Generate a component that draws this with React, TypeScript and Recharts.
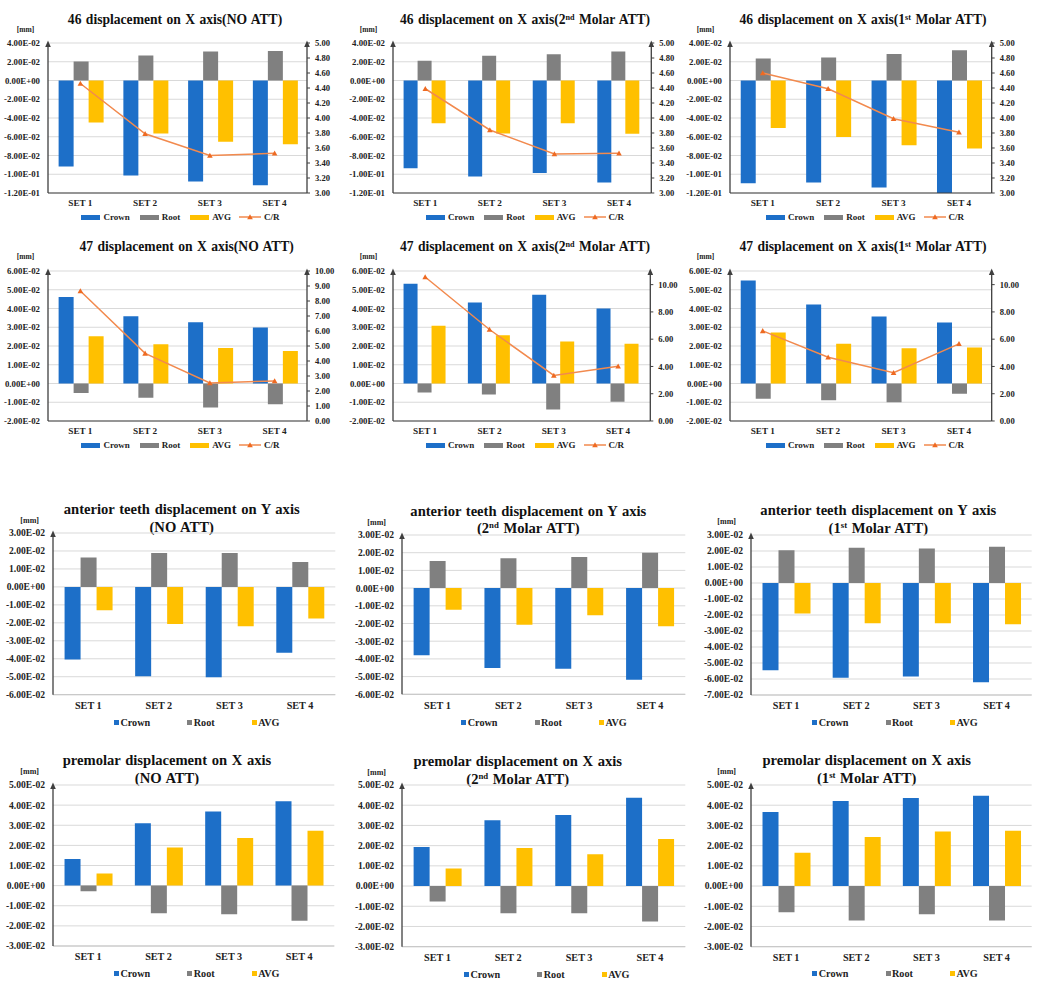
import React from 'react';
import { ComposedChart, Bar, Line, XAxis, YAxis, CartesianGrid } from 'recharts';

// ---------- categories ----------
const SETS = ['SET 1', 'SET 2', 'SET 3', 'SET 4'];

// ---------- 46 displacement on X axis ----------
const t46NoCrown = [-0.0917, -0.1013, -0.1077, -0.1116];
const t46NoRoot = [0.0203, 0.0267, 0.0309, 0.0316];
const t46NoAvg = [-0.0448, -0.0565, -0.0654, -0.0679];
const t46NoCR = [4.46, 3.79, 3.5, 3.53];

const t46M2Crown = [-0.0935, -0.1024, -0.0988, -0.1088];
const t46M2Root = [0.021, 0.0263, 0.0281, 0.0309];
const t46M2Avg = [-0.0455, -0.0565, -0.0455, -0.0569];
const t46M2CR = [4.39, 3.84, 3.52, 3.53];

const t46M1Crown = [-0.1095, -0.1088, -0.1141, -0.12];
const t46M1Root = [0.0235, 0.0245, 0.0284, 0.0324];
const t46M1Avg = [-0.0508, -0.0604, -0.069, -0.0725];
const t46M1CR = [4.6, 4.39, 3.99, 3.81];

// ---------- 47 displacement on X axis ----------
const t47NoCrown = [0.0462, 0.0359, 0.0327, 0.0299];
const t47NoRoot = [-0.005, -0.0076, -0.0128, -0.011];
const t47NoAvg = [0.0252, 0.021, 0.019, 0.0174];
const t47NoCR = [8.67, 4.51, 2.53, 2.67];

const t47M2Crown = [0.0532, 0.0432, 0.0473, 0.04];
const t47M2Root = [-0.0048, -0.0059, -0.0139, -0.0098];
const t47M2Avg = [0.0308, 0.0258, 0.0224, 0.0212];
const t47M2CR = [10.56, 6.71, 3.34, 4.02];

const t47M1Crown = [0.0549, 0.0421, 0.0357, 0.0325];
const t47M1Root = [-0.0082, -0.0089, -0.01, -0.0055];
const t47M1Avg = [0.0272, 0.0212, 0.0188, 0.0192];
const t47M1CR = [6.61, 4.68, 3.54, 5.66];

// ---------- anterior teeth displacement on Y axis ----------
const antNoCrown = [-0.0404, -0.0497, -0.0503, -0.0367];
const antNoRoot = [0.0163, 0.0189, 0.0189, 0.0139];
const antNoAvg = [-0.013, -0.0206, -0.0219, -0.0176];

const antM2Crown = [-0.038, -0.0452, -0.0456, -0.0518];
const antM2Root = [0.0153, 0.0168, 0.0175, 0.02];
const antM2Avg = [-0.0122, -0.0207, -0.0154, -0.0215];

const antM1Crown = [-0.0546, -0.0592, -0.0585, -0.0621];
const antM1Root = [0.0204, 0.0221, 0.0215, 0.0227];
const antM1Avg = [-0.019, -0.0252, -0.0252, -0.0258];

// ---------- premolar displacement on X axis ----------
const preNoCrown = [0.0132, 0.031, 0.0368, 0.0419];
const preNoRoot = [-0.0028, -0.0137, -0.0142, -0.0175];
const preNoAvg = [0.006, 0.0189, 0.0237, 0.0273];

const preM2Crown = [0.0193, 0.0325, 0.0351, 0.0437];
const preM2Root = [-0.0076, -0.0134, -0.0134, -0.0175];
const preM2Avg = [0.0087, 0.0188, 0.0157, 0.0233];

const preM1Crown = [0.0366, 0.0421, 0.0436, 0.0447];
const preM1Root = [-0.0129, -0.017, -0.014, -0.017];
const preM1Avg = [0.0165, 0.0243, 0.027, 0.0274];

// ---------- axis ticks ----------
const ticks46L = [-0.12, -0.1, -0.08, -0.06, -0.04, -0.02, 0, 0.02, 0.04];
const ticks46R = [3, 3.2, 3.4, 3.6, 3.8, 4, 4.2, 4.4, 4.6, 4.8, 5];
const ticks47L = [-0.02, -0.01, 0, 0.01, 0.02, 0.03, 0.04, 0.05, 0.06];
const ticks47NoR = [0, 1, 2, 3, 4, 5, 6, 7, 8, 9, 10];
const ticks47AttR = [0, 2, 4, 6, 8, 10];
const ticksAnt6 = [-0.06, -0.05, -0.04, -0.03, -0.02, -0.01, 0, 0.01, 0.02, 0.03];
const ticksAnt7 = [-0.07, -0.06, -0.05, -0.04, -0.03, -0.02, -0.01, 0, 0.01, 0.02, 0.03];
const ticksPre = [-0.03, -0.02, -0.01, 0, 0.01, 0.02, 0.03, 0.04, 0.05];

// ---------- styles ----------
const FONT = '"Liberation Serif", "Times New Roman", Times, serif';
const BLUE = '#1D6FC8';
const GRAY = '#808080';
const GOLD = '#FFC000';
const ORANGE = '#F28A4E';
const ORANGE_DOT = '#EE6A22';
const AXIS = '#3f3f3f';
const TXT = '#222';

function sci(v: number): string {
  if (Math.abs(v) < 1e-12) return '0.00E+00';
  const s = v.toExponential(2);
  const [m, e] = s.split('e');
  const n = parseInt(e, 10);
  const a = Math.abs(n);
  return `${m}E${n < 0 ? '-' : '+'}${a < 10 ? '0' + a : a}`;
}

function buildRows(crown: number[], root: number[], avg: number[], cr?: number[]) {
  return SETS.map((set, i) => ({
    set,
    crown: crown[i],
    root: root[i],
    avg: avg[i],
    cr: cr ? cr[i] : undefined,
  }));
}

const arrowLeft = (props: any) => {
  const vb = props.viewBox || {};
  const x = (vb.x || 0) + (vb.width || 0);
  const y = vb.y || 0;
  return <polygon points={`${x - 2.8},${y + 4} ${x + 2.8},${y + 4} ${x},${y - 2.5}`} fill={AXIS} />;
};
const arrowRight = (props: any) => {
  const vb = props.viewBox || {};
  const x = vb.x || 0;
  const y = vb.y || 0;
  return <polygon points={`${x - 2.8},${y + 4} ${x + 2.8},${y + 4} ${x},${y - 2.5}`} fill={AXIS} />;
};

const TriDot = (p: any) => {
  const { cx, cy, index } = p;
  if (cx == null || cy == null) return <g key={`n${index}`} />;
  return (
    <polygon
      key={`t${index}`}
      points={`${cx - 2.8},${cy + 2.3} ${cx + 2.8},${cy + 2.3} ${cx},${cy - 2.8}`}
      fill={ORANGE_DOT}
    />
  );
};

type PanelProps = {
  rows: any[];
  x0: number; x1: number; y0: number; y1: number;
  lDomain: [number, number]; lTicks: number[];
  rDomain?: [number, number]; rTicks?: number[];
  big?: boolean;
};

function Panel({ rows, x0, x1, y0, y1, lDomain, lTicks, rDomain, rTicks, big }: PanelProps) {
  const wL = 52;
  const wR = rDomain ? 40 : 0;
  const mt = 8;
  const mr = 2;
  const hX = 24;
  const boxLeft = x0 - wL;
  const boxTop = y0 - mt;
  const W = x1 - boxLeft + wR + mr;
  const H = y1 - boxTop + hX;
  const tickFont = big ? 9.6 : 8.8;
  const xFont = big ? 10.2 : 9.2;
  return (
    <div style={{ position: 'absolute', left: boxLeft, top: boxTop, width: W, height: H }}>
      <ComposedChart
        width={W}
        height={H}
        data={rows}
        margin={{ top: mt, right: mr, bottom: 0, left: 0 }}
        barCategoryGap="16.4%"
        barGap={0}
      >
        <CartesianGrid yAxisId="l" vertical={false} stroke="#d9d9d9" strokeWidth={1} />
        <XAxis
          dataKey="set"
          interval={0}
          tickLine={false}
          tickSize={big ? 5 : 4}
          tickMargin={2}
          height={hX}
          axisLine={{ stroke: big ? '#c4c4c4' : AXIS, strokeWidth: big ? 1 : 1.2 }}
          tick={{ fontSize: xFont, fontWeight: 700, fill: TXT, fontFamily: FONT }}
        />
        <YAxis
          yAxisId="l"
          orientation="left"
          width={wL}
          domain={lDomain}
          ticks={lTicks}
          interval={0}
          allowDataOverflow
          tickFormatter={sci}
          tickLine={false}
          tickSize={6}
          tickMargin={2}
          axisLine={{ stroke: AXIS, strokeWidth: 1.3 }}
          tick={{ fontSize: tickFont, fontWeight: 700, fill: TXT, fontFamily: FONT }}
          label={{ content: arrowLeft }}
        />
        {rDomain && (
          <YAxis
            yAxisId="r"
            orientation="right"
            width={wR}
            domain={rDomain}
            ticks={rTicks}
            interval={0}
            allowDataOverflow
            tickFormatter={(v: number) => v.toFixed(2)}
            tickSize={3}
            tickMargin={5}
            tickLine={{ stroke: AXIS }}
            axisLine={{ stroke: AXIS, strokeWidth: 1.3 }}
            tick={{ fontSize: 8.6, fontWeight: 700, fill: TXT, fontFamily: FONT }}
            label={{ content: arrowRight }}
          />
        )}
        <Bar yAxisId="l" dataKey="crown" fill={BLUE} isAnimationActive={false} />
        <Bar yAxisId="l" dataKey="root" fill={GRAY} isAnimationActive={false} />
        <Bar yAxisId="l" dataKey="avg" fill={GOLD} isAnimationActive={false} />
        {rDomain && (
          <Line
            yAxisId="r"
            type="linear"
            dataKey="cr"
            stroke={ORANGE}
            strokeWidth={1.5}
            dot={TriDot}
            activeDot={false}
            isAnimationActive={false}
          />
        )}
      </ComposedChart>
    </div>
  );
}

function Title({ cx, cy, size, children }: { cx: number; cy: number; size: number; children: React.ReactNode }) {
  return (
    <div
      style={{
        position: 'absolute', left: cx - 250, width: 500, top: cy - 10, height: 20, lineHeight: '20px',
        textAlign: 'center', fontSize: size, fontWeight: 700, color: '#111', fontFamily: FONT, whiteSpace: 'nowrap',
        wordSpacing: 1,
      }}
    >
      {children}
    </div>
  );
}

function Sup({ children }: { children: React.ReactNode }) {
  return <span style={{ fontSize: '0.6em', verticalAlign: '0.55em', lineHeight: 0 }}>{children}</span>;
}

function MM({ cx, cy, size }: { cx: number; cy: number; size: number }) {
  return (
    <div style={{ position: 'absolute', left: cx - 20, width: 40, top: cy - 6, height: 12, lineHeight: '12px', textAlign: 'center', fontSize: size, fontWeight: 700, color: TXT, fontFamily: FONT }}>
      [mm]
    </div>
  );
}

function LegendTop({ cx, cy }: { cx: number; cy: number }) {
  const sw = (c: string) => <span style={{ display: 'inline-block', width: 19, height: 5, background: c, marginRight: 3 }} />;
  const txt: React.CSSProperties = { fontSize: 9, fontWeight: 700, color: TXT, fontFamily: FONT };
  return (
    <div style={{ position: 'absolute', left: cx - 150, width: 300, top: cy - 6, height: 12, display: 'flex', alignItems: 'center', justifyContent: 'center', whiteSpace: 'nowrap' }}>
      {sw(BLUE)}<span style={{ ...txt, marginRight: 10 }}>Crown</span>
      {sw(GRAY)}<span style={{ ...txt, marginRight: 10 }}>Root</span>
      {sw(GOLD)}<span style={{ ...txt, marginRight: 8 }}>AVG</span>
      <svg width={22} height={8} style={{ marginRight: 3 }}>
        <line x1={0} y1={4} x2={22} y2={4} stroke={ORANGE} strokeWidth={1.5} />
        <polygon points="8.2,6.3 13.8,6.3 11,1.2" fill={ORANGE_DOT} />
      </svg>
      <span style={txt}>C/R</span>
    </div>
  );
}

function LegendBottom({ cx, cy }: { cx: number; cy: number }) {
  const sq = (c: string) => <span style={{ display: 'inline-block', width: 5, height: 5, background: c, marginRight: 1.5 }} />;
  const txt: React.CSSProperties = { fontSize: 10.2, fontWeight: 700, color: TXT, fontFamily: FONT };
  return (
    <div style={{ position: 'absolute', left: cx - 150, width: 300, top: cy - 7, height: 14, display: 'flex', alignItems: 'center', justifyContent: 'center', whiteSpace: 'nowrap' }}>
      {sq(BLUE)}<span style={{ ...txt, marginRight: 37 }}>Crown</span>
      {sq(GRAY)}<span style={{ ...txt, marginRight: 37 }}>Root</span>
      {sq(GOLD)}<span style={txt}>AVG</span>
    </div>
  );
}

export default function App() {
  const r46No = buildRows(t46NoCrown, t46NoRoot, t46NoAvg, t46NoCR);
  const r46M2 = buildRows(t46M2Crown, t46M2Root, t46M2Avg, t46M2CR);
  const r46M1 = buildRows(t46M1Crown, t46M1Root, t46M1Avg, t46M1CR);
  const r47No = buildRows(t47NoCrown, t47NoRoot, t47NoAvg, t47NoCR);
  const r47M2 = buildRows(t47M2Crown, t47M2Root, t47M2Avg, t47M2CR);
  const r47M1 = buildRows(t47M1Crown, t47M1Root, t47M1Avg, t47M1CR);
  const rAntNo = buildRows(antNoCrown, antNoRoot, antNoAvg);
  const rAntM2 = buildRows(antM2Crown, antM2Root, antM2Avg);
  const rAntM1 = buildRows(antM1Crown, antM1Root, antM1Avg);
  const rPreNo = buildRows(preNoCrown, preNoRoot, preNoAvg);
  const rPreM2 = buildRows(preM2Crown, preM2Root, preM2Avg);
  const rPreM1 = buildRows(preM1Crown, preM1Root, preM1Avg);

  const d46: [number, number] = [-0.12, 0.04];
  const d46R: [number, number] = [3, 5];
  const d47: [number, number] = [-0.02, 0.06];

  return (
    <div style={{ position: 'absolute', left: 0, top: 0, width: 1052, height: 988, background: '#fff', overflow: 'hidden', fontFamily: FONT }}>
      {/* Row 1 */}
      <Title cx={175} cy={20} size={13.6}>46 displacement on X axis(NO ATT)</Title>
      <Title cx={525} cy={19.5} size={13.6}>46 displacement on X axis(2<Sup>nd</Sup> Molar ATT)</Title>
      <Title cx={863} cy={19.5} size={13.6}>46 displacement on X axis(1<Sup>st</Sup> Molar ATT)</Title>
      <MM cx={25.5} cy={29.5} size={7.5} />
      <MM cx={368.5} cy={29.5} size={7.5} />
      <MM cx={705.5} cy={29.5} size={7.5} />
      <Panel rows={r46No} x0={47.7} x1={306.7} y0={42.7} y1={192.7} lDomain={d46} lTicks={ticks46L} rDomain={d46R} rTicks={ticks46R} />
      <Panel rows={r46M2} x0={392.7} x1={651} y0={42.7} y1={192.7} lDomain={d46} lTicks={ticks46L} rDomain={d46R} rTicks={ticks46R} />
      <Panel rows={r46M1} x0={730} x1={991.7} y0={42.7} y1={192.7} lDomain={d46} lTicks={ticks46L} rDomain={d46R} rTicks={ticks46R} />
      <LegendTop cx={180.5} cy={217} />
      <LegendTop cx={525} cy={217} />
      <LegendTop cx={865} cy={217} />

      {/* Row 2 */}
      <Title cx={186.7} cy={247} size={13.6}>47 displacement on X axis(NO ATT)</Title>
      <Title cx={525} cy={247} size={13.6}>47 displacement on X axis(2<Sup>nd</Sup> Molar ATT)</Title>
      <Title cx={863} cy={247} size={13.6}>47 displacement on X axis(1<Sup>st</Sup> Molar ATT)</Title>
      <MM cx={25.5} cy={257} size={7.5} />
      <MM cx={368.5} cy={257} size={7.5} />
      <MM cx={705.5} cy={257} size={7.5} />
      <Panel rows={r47No} x0={47.7} x1={306.7} y0={270.7} y1={420.7} lDomain={d47} lTicks={ticks47L} rDomain={[0, 10]} rTicks={ticks47NoR} />
      <Panel rows={r47M2} x0={392.7} x1={650} y0={270.7} y1={420.7} lDomain={d47} lTicks={ticks47L} rDomain={[0, 11]} rTicks={ticks47AttR} />
      <Panel rows={r47M1} x0={730} x1={991.7} y0={270.7} y1={420.7} lDomain={d47} lTicks={ticks47L} rDomain={[0, 11]} rTicks={ticks47AttR} />
      <LegendTop cx={180.5} cy={445} />
      <LegendTop cx={525} cy={445} />
      <LegendTop cx={865} cy={445} />

      {/* Row 3 */}
      <Title cx={181.7} cy={508.5} size={14.6}>anterior teeth displacement on Y axis</Title>
      <Title cx={181.7} cy={526.7} size={14.6}>(NO ATT)</Title>
      <Title cx={528.3} cy={510.5} size={14.6}>anterior teeth displacement on Y axis</Title>
      <Title cx={528.3} cy={528.3} size={14.6}>(2<Sup>nd</Sup> Molar ATT)</Title>
      <Title cx={878.3} cy={510} size={14.6}>anterior teeth displacement on Y axis</Title>
      <Title cx={878.3} cy={527.5} size={14.6}>(1<Sup>st</Sup> Molar ATT)</Title>
      <MM cx={29.7} cy={521} size={8} />
      <MM cx={376.7} cy={523.3} size={8} />
      <MM cx={726.7} cy={522.3} size={8} />
      <Panel big rows={rAntNo} x0={52.7} x1={335} y0={533.3} y1={695} lDomain={[-0.06, 0.03]} lTicks={ticksAnt6} />
      <Panel big rows={rAntM2} x0={401.7} x1={685} y0={535} y1={694.3} lDomain={[-0.06, 0.03]} lTicks={ticksAnt6} />
      <Panel big rows={rAntM1} x0={751} x1={1031.7} y0={535} y1={695} lDomain={[-0.07, 0.03]} lTicks={ticksAnt7} />
      <LegendBottom cx={196.7} cy={722.7} />
      <LegendBottom cx={544} cy={722.7} />
      <LegendBottom cx={895} cy={722.7} />

      {/* Row 4 */}
      <Title cx={167} cy={760} size={14.6}>premolar displacement on X axis</Title>
      <Title cx={167} cy={778.3} size={14.6}>(NO ATT)</Title>
      <Title cx={517.7} cy={760.7} size={14.6}>premolar displacement on X axis</Title>
      <Title cx={517.7} cy={779.3} size={14.6}>(2<Sup>nd</Sup> Molar ATT)</Title>
      <Title cx={866.7} cy={760} size={14.6}>premolar displacement on X axis</Title>
      <Title cx={866.7} cy={778.3} size={14.6}>(1<Sup>st</Sup> Molar ATT)</Title>
      <MM cx={29.7} cy={772.3} size={8} />
      <MM cx={376.7} cy={773.3} size={8} />
      <MM cx={726.7} cy={772.3} size={8} />
      <Panel big rows={rPreNo} x0={52.7} x1={334} y0={785} y1={946} lDomain={[-0.03, 0.05]} lTicks={ticksPre} />
      <Panel big rows={rPreM2} x0={401.7} x1={685} y0={785} y1={946.7} lDomain={[-0.03, 0.05]} lTicks={ticksPre} />
      <Panel big rows={rPreM1} x0={751} x1={1031.7} y0={785} y1={946.7} lDomain={[-0.03, 0.05]} lTicks={ticksPre} />
      <LegendBottom cx={196.7} cy={973.3} />
      <LegendBottom cx={546.7} cy={974.3} />
      <LegendBottom cx={895} cy={973.3} />
    </div>
  );
}
